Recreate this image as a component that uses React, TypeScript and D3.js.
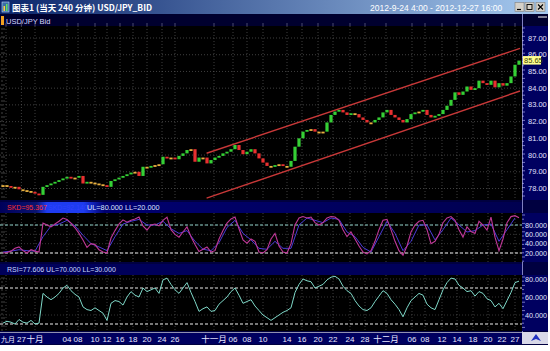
import React from 'react';
import * as d3 from 'd3';

const W = 550;
const H = 351;

// ---- data (sample index = one ~12h step from 2012-9-24 to 2012-12-27) ----
const closes = [
  78.20, 78.15, 78.05, 78.10, 77.95, 77.90, 77.85, 77.80, 77.70, 77.62,
  78.10, 78.20, 78.30, 78.40, 78.50, 78.60, 78.70, 78.60, 78.65, 78.75,
  78.30, 78.40, 78.35, 78.30, 78.25, 78.20, 78.10, 78.45, 78.55, 78.65,
  78.75, 78.85, 78.95, 79.00, 78.75, 79.30, 79.25, 79.35, 79.40, 79.45,
  79.90, 79.80, 79.85, 79.75, 79.95, 80.10, 80.30, 80.35, 79.60, 79.85,
  79.85, 79.50, 79.70, 79.85, 79.95, 80.10, 80.20, 80.35, 80.60, 80.30,
  80.05, 80.20, 80.35, 80.10, 79.80, 79.55, 79.35, 79.30, 79.40, 79.45,
  79.35, 79.30, 79.65, 80.50, 81.00, 81.40, 81.50, 81.55, 81.40, 81.35,
  81.40, 81.95, 82.40, 82.60, 82.70, 82.55, 82.40, 82.50, 82.45, 82.25,
  82.10, 81.95, 81.95, 82.10, 82.25, 82.55, 82.70, 82.40, 82.25, 82.10,
  81.95, 82.15, 82.45, 82.55, 82.60, 82.70, 82.40, 82.25, 82.35, 82.45,
  82.70, 82.95, 83.30, 83.75, 83.60, 83.80, 84.10, 83.90, 84.00, 84.45,
  84.30, 84.20, 84.45, 84.05, 84.30, 84.15, 84.30, 84.70, 85.40, 85.65,
];

const stochK = [
  20, 21, 24, 30, 33, 25, 20, 27, 24, 22,
  84, 80, 76, 82, 88, 95, 92, 84, 74, 62,
  48, 32, 40, 38, 27, 22, 20, 52, 68, 82,
  91, 86, 90, 93, 97, 78, 69, 80, 82, 78,
  90, 97, 70, 60, 54, 65, 76, 55, 38, 23,
  28, 33, 22, 25, 50, 68, 84, 93, 97, 72,
  48, 41, 50, 45, 22, 20, 27, 50, 62, 35,
  22, 20, 40, 80, 95, 98, 95, 97, 85, 80,
  85, 95, 98, 97, 90, 70, 55, 65, 50, 35,
  22, 18, 25, 45, 70, 90, 92, 70, 45, 25,
  15, 35, 65, 80, 88, 90, 70, 40, 45, 60,
  85, 95, 98, 90, 70, 54, 76, 66, 62, 88,
  80, 69, 97, 54, 25, 50, 85, 98, 100, 95.367,
];

// slower %D line, one value every two samples
const stochD = [
  22, 24, 27, 25, 24, 55, 78, 82, 90, 78,
  58, 40, 33, 25, 55, 82, 88, 92, 80, 80,
  88, 72, 62, 68, 45, 28, 25, 42, 75, 90,
  62, 48, 30, 28, 45, 30, 30, 80, 95, 90,
  85, 95, 92, 65, 55, 32, 22, 55, 88, 62,
  25, 45, 80, 80, 48, 70, 95, 80, 65, 68,
  80, 82, 45, 70, 95,
];

const rsi = [
  31, 33, 32, 30, 35, 32, 31, 34, 30, 31,
  64, 60, 57, 60, 64, 70, 73, 67, 63, 60,
  49, 46, 45, 48, 45, 42, 34, 53, 56, 55,
  51, 60, 66, 62, 60, 70, 66, 68, 70, 64,
  79, 81, 74, 68, 64, 70, 76, 65, 55, 44,
  47, 49, 44, 45, 52, 56, 60, 66, 70, 62,
  53, 55, 57, 50, 45, 40, 37, 34, 37, 40,
  43, 45, 48, 65, 74, 80, 78, 77, 70, 72,
  74, 79, 82, 83, 80, 72, 67, 64, 56, 50,
  46, 45, 48, 55, 61, 67, 64, 57, 52, 46,
  38, 48, 56, 60, 64, 62, 52, 48, 46, 57,
  68, 76, 81, 80, 73, 70, 66, 67, 61, 66,
  64, 58, 56, 49, 53, 47, 56, 65, 76, 77.606,
];

const priceTicks = [78, 79, 80, 81, 82, 83, 84, 85, 86, 87];
const stochTicks = [20, 40, 60, 80];
const rsiTicks = [40, 60, 80];

const dateLabels = ['九月', '27', '十月', '04', '08', '10', '12', '16', '18', '20', '24', '26',
  '十一月', '06', '08', '10', '14', '16', '20', '22', '24', '28',
  '十二月', '06', '08', '12', '14', '18', '20', '22', '27'];
const datePos = [0.75, 4.6, 8, 16, 18.75, 23, 26, 29.25, 32.5, 36, 39.75, 43,
  52.75, 57.5, 61, 65, 71, 74.75, 78.75, 82.5, 86.75, 90.5,
  95.75, 102.25, 105.5, 109.75, 113.5, 117.5, 121.25, 124.75, 128];

// trend channel: [sample index, price]
const channelUpper = [[50.9, 80.11], [129.25, 86.38]];
const channelLower = [[50.9, 77.42], [129.25, 83.83]];

const lastPrice = '85.65';
const stochLabel = 'SKD=95.367';
const stochLabel2 = 'SKD=92.140';
const stochLimits = 'UL=80.000 LL=20.000';
const rsiLabel = 'RSI=77.606 UL=70.000 LL=30.000';

const NUM = '"Liberation Sans", Arial, sans-serif';
const CJK = '"Noto Sans CJK SC", "Liberation Sans", sans-serif';

export default function App() {
  const n = closes.length;
  const x = d3.scaleLinear().domain([0, n - 1]).range([3, 519]);
  const yP = d3.scaleLinear().domain([78, 87]).range([188.5, 38]);
  const yS = d3.scaleLinear().domain([20, 80]).range([253, 225]);
  const yR = d3.scaleLinear().domain([40, 80]).range([315, 279]);

  const plotR = 522;
  const main = { top: 26, bottom: 200 };
  const st = { top: 213, bottom: 262 };
  const rs = { top: 275, bottom: 331 };

  const lineK = d3.line<number>().x((_, i) => x(i)).y(v => yS(v));
  const lineD = d3.line<number>().x((_, i) => x(i * 2)).y(v => yS(v));
  const lineR = d3.line<number>().x((_, i) => x(i)).y(v => yR(v));

  const cw = 3.2;
  const candles = closes.map((c, i) => {
    const o = i === 0 ? c : closes[i - 1];
    const d = c - o;
    const color = Math.abs(d) < 0.06 ? '#e8b040' : d > 0 ? '#35d035' : '#e83030';
    const y1 = Math.min(yP(o), yP(c));
    const h = Math.max(1.8, Math.abs(yP(o) - yP(c)));
    return <rect key={i} x={x(i) - cw / 2} y={y1} width={cw} height={h} fill={color} />;
  });

  const vgrid = (top: number, bottom: number, key: string) =>
    datePos.map((p, i) => (
      <line key={key + i} x1={x(p)} x2={x(p)} y1={top} y2={bottom}
        stroke="#5a5a5a" strokeWidth={0.7} strokeDasharray="1,2" />
    ));

  const leftRuler = (top: number, bottom: number, key: string) => {
    const out: any[] = [];
    for (let y = top + 3, k = 0; y < bottom; y += 4, k++) {
      out.push(<line key={key + k} x1={1} x2={k % 2 ? 3 : 5} y1={y} y2={y} stroke="#707070" strokeWidth={0.6} />);
    }
    return out;
  };

  const axisTicks = (top: number, bottom: number, key: string) => {
    const out: any[] = [];
    for (let y = top + 2, k = 0; y < bottom; y += 4.2, k++) {
      out.push(<line key={key + k} x1={plotR} x2={plotR + (k % 2 ? 2 : 3)} y1={y} y2={y} stroke="#c8c8ff" strokeWidth={0.6} />);
    }
    return out;
  };

  return (
    <svg width={W} height={H} style={{ position: 'absolute', left: 0, top: 0, background: '#ffffff' }}
      xmlns="http://www.w3.org/2000/svg">
      <defs>
        <linearGradient id="title" x1="0" x2="1" y1="0" y2="0">
          <stop offset="0" stopColor="#0a246a" />
          <stop offset="1" stopColor="#a6caf0" />
        </linearGradient>
        <linearGradient id="skdbar" x1="0" x2="1" y1="0" y2="0">
          <stop offset="0" stopColor="#00005a" />
          <stop offset="0.07" stopColor="#0a1470" />
          <stop offset="0.09" stopColor="#1e3cf0" />
          <stop offset="0.16" stopColor="#1e3cf0" />
          <stop offset="0.2" stopColor="#000070" />
          <stop offset="1" stopColor="#000050" />
        </linearGradient>
        <clipPath id="cMain"><rect x={0} y={main.top} width={plotR} height={main.bottom - main.top} /></clipPath>
        <clipPath id="cSt"><rect x={0} y={st.top} width={plotR} height={st.bottom - st.top} /></clipPath>
        <clipPath id="cRs"><rect x={0} y={rs.top} width={plotR} height={rs.bottom - rs.top} /></clipPath>
      </defs>

      {/* window frame */}
      <rect x={0} y={0} width={548} height={345} fill="#000040" />
      <rect x={0} y={0} width={548} height={14} fill="url(#title)" />
      <rect x={2} y={2} width={7} height={10} fill="#3a6ea5" stroke="#c0d8ff" strokeWidth={0.6} />
      <rect x={3.5} y={6} width={1.5} height={5} fill="#ffd040" />
      <rect x={6} y={4} width={1.5} height={7} fill="#60e060" />
      <text x={12} y={10.5} fontSize={8.5} fill="#ffffff" fontFamily={CJK} fontWeight="bold">
        图表1 (当天 240 分钟)   USD/JPY_BID
      </text>
      <text x={370} y={10.5} fontSize={8.5} fill="#ffffff" fontFamily={NUM}>
        2012-9-24 4:00  -  2012-12-27 16:00
      </text>
      {[515, 525, 536].map((bx, i) => (
        <g key={'btn' + i}>
          <rect x={bx} y={2.5} width={9} height={9} fill="#d4d0c8" stroke="#808080" strokeWidth={0.6} />
          {i === 0 && <line x1={bx + 2} x2={bx + 6} y1={9.5} y2={9.5} stroke="#000" strokeWidth={1.2} />}
          {i === 1 && <rect x={bx + 2} y={4.5} width={5} height={5} fill="none" stroke="#000" strokeWidth={0.9} />}
          {i === 2 && <path d={`M${bx + 2},4.5 L${bx + 7},9.5 M${bx + 7},4.5 L${bx + 2},9.5`} stroke="#000" strokeWidth={1.1} />}
        </g>
      ))}

      {/* main header strip */}
      <rect x={0} y={14} width={548} height={12} fill="#00002e" />
      <rect x={1} y={16} width={3} height={9} fill="#f0a020" />
      <text x={6} y={23.5} fontSize={7.5} fill="#d8d8ff" fontFamily={NUM}>USD/JPY Bid</text>
      {datePos.map((p, i) => (
        <line key={'ht' + i} x1={x(p)} x2={x(p)} y1={23} y2={26} stroke="#6a6a8a" strokeWidth={0.7} />
      ))}
      <line x1={538} x2={547} y1={17} y2={17} stroke="#ffffff" strokeWidth={1} />

      {/* main plot */}
      <rect x={0} y={main.top} width={plotR} height={main.bottom - main.top} fill="#000000" />
      {priceTicks.map(t => (
        <line key={'pg' + t} x1={0} x2={plotR} y1={yP(t)} y2={yP(t)} stroke="#5a5a5a" strokeWidth={0.7} strokeDasharray="1,2" />
      ))}
      {vgrid(main.top, main.bottom, 'vm')}
      {leftRuler(main.top, main.bottom, 'lm')}
      <g clipPath="url(#cMain)">
        <line x1={x(channelUpper[0][0])} y1={yP(channelUpper[0][1])} x2={x(channelUpper[1][0])} y2={yP(channelUpper[1][1])}
          stroke="#c83838" strokeWidth={1.4} />
        <line x1={x(channelLower[0][0])} y1={yP(channelLower[0][1])} x2={x(channelLower[1][0])} y2={yP(channelLower[1][1])}
          stroke="#c83838" strokeWidth={1.4} />
        {candles}
      </g>

      {/* price axis */}
      <rect x={plotR} y={26} width={26} height={main.bottom - 26} fill="#000060" />
      <line x1={plotR + 0.5} x2={plotR + 0.5} y1={14} y2={332} stroke="#8080c0" strokeWidth={1} />
      {axisTicks(main.top, main.bottom, 'am')}
      {priceTicks.map(t => (
        <text key={'pt' + t} x={528} y={yP(t) + 2.6} fontSize={7.5} fill="#e0e0ff" fontFamily={NUM}>{t.toFixed(2)}</text>
      ))}
      <rect x={523} y={yP(+lastPrice) - 4.5} width={18} height={8.5} fill="#ffff90" />
      <text x={524} y={yP(+lastPrice) + 2.5} fontSize={7.5} fill="#404000" fontFamily={NUM}>{lastPrice}</text>

      {/* stochastic panel */}
      <rect x={0} y={202} width={plotR} height={11} fill="url(#skdbar)" />
      <text x={7} y={210} fontSize={7} fill="#ff3030" fontFamily={NUM}>{stochLabel}</text>
      <text x={48} y={210} fontSize={7} fill="#3040ff" fontFamily={NUM}>{stochLabel2}</text>
      <text x={87} y={210} fontSize={7.3} fill="#d8e0ff" fontFamily={NUM}>{stochLimits}</text>
      <rect x={0} y={st.top} width={plotR} height={st.bottom - st.top} fill="#000000" />
      {stochTicks.map(t => (
        <line key={'sg' + t} x1={0} x2={plotR} y1={yS(t)} y2={yS(t)} stroke="#4a4a4a" strokeWidth={0.7} strokeDasharray="1,2" />
      ))}
      {vgrid(st.top, st.bottom, 'vs')}
      {leftRuler(st.top, st.bottom, 'ls')}
      <line x1={0} x2={plotR} y1={yS(80)} y2={yS(80)} stroke="#8fd0c8" strokeWidth={1} strokeDasharray="3,2" />
      <line x1={0} x2={plotR} y1={yS(20)} y2={yS(20)} stroke="#f0f0f0" strokeWidth={1} strokeDasharray="3,2" />
      <g clipPath="url(#cSt)">
        <path d={lineD(stochD) || ''} fill="none" stroke="#4a3ad8" strokeWidth={1} />
        <path d={lineK(stochK) || ''} fill="none" stroke="#c03898" strokeWidth={1.1} />
      </g>
      <rect x={plotR} y={st.top} width={26} height={st.bottom - st.top} fill="#000060" />
      {axisTicks(st.top, st.bottom, 'as')}
      {stochTicks.map(t => (
        <text key={'st' + t} x={525} y={yS(t) + 2.6} fontSize={7.2} fill="#e0e0ff" fontFamily={NUM}>{t.toFixed(3)}</text>
      ))}

      {/* RSI panel */}
      <rect x={0} y={264} width={plotR} height={11} fill="#00005a" />
      <text x={7} y={272} fontSize={7} fill="#c8d8ff" fontFamily={NUM}>{rsiLabel}</text>
      <rect x={0} y={rs.top} width={plotR} height={rs.bottom - rs.top} fill="#000000" />
      {rsiTicks.map(t => (
        <line key={'rg' + t} x1={0} x2={plotR} y1={yR(t)} y2={yR(t)} stroke="#4a4a4a" strokeWidth={0.7} strokeDasharray="1,2" />
      ))}
      {vgrid(rs.top, rs.bottom, 'vr')}
      {leftRuler(rs.top, rs.bottom, 'lr')}
      <line x1={0} x2={plotR} y1={yR(70)} y2={yR(70)} stroke="#e8e8e8" strokeWidth={1} strokeDasharray="3,2" />
      <line x1={0} x2={plotR} y1={yR(30)} y2={yR(30)} stroke="#f0f0f0" strokeWidth={1} strokeDasharray="3,2" />
      <g clipPath="url(#cRs)">
        <path d={lineR(rsi) || ''} fill="none" stroke="#7fd8c8" strokeWidth={1} />
      </g>
      <rect x={plotR} y={rs.top} width={26} height={rs.bottom - rs.top} fill="#000060" />
      {axisTicks(rs.top, rs.bottom, 'ar')}
      {rsiTicks.map(t => (
        <text key={'rt' + t} x={525} y={yR(t) + 2.6} fontSize={7.2} fill="#e0e0ff" fontFamily={NUM}>{t.toFixed(3)}</text>
      ))}

      {/* date axis */}
      <rect x={0} y={332} width={plotR} height={12} fill="#000060" />
      <line x1={0} x2={plotR} y1={332.5} y2={332.5} stroke="#9090b0" strokeWidth={1} />
      {dateLabels.map((l, i) => (
        <text key={'dl' + i} x={i === 0 ? 1 : x(datePos[i])} y={341.5} fontSize={/[0-9]/.test(l) ? 8 : (i === 0 ? 7 : 8.5)}
          textAnchor={i === 0 ? 'start' : 'middle'} fill="#e8e8ff" fontFamily={/[0-9]/.test(l) ? NUM : CJK}>{l}</text>
      ))}
      <rect x={plotR} y={332} width={26} height={12} fill="#d8d8e8" />
      <path d="M531,341 L536,334 L541,341 L536,339 Z" fill="#2030c0" />
    </svg>
  );
}
